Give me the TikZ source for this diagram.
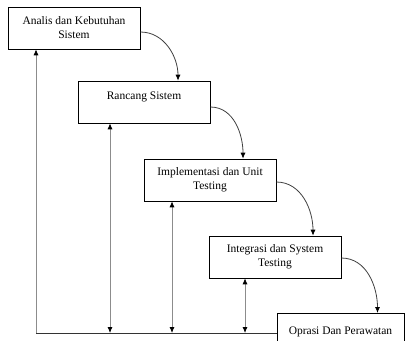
\documentclass[tikz,border=0pt]{standalone}
\usepackage{fontspec}
\setmainfont{Liberation Serif}
\usepackage{tikz}
\usetikzlibrary{arrows.meta}

\begin{document}
\begin{tikzpicture}[x=1pt,y=-1pt]
\tikzstyle{lien}=[-{Latex[black,length=6pt,width=5pt]},thick,draw=black!75]
\tikzstyle{tiang}=[{Latex[black,length=6pt,width=5pt]}-{Latex[black,length=6pt,width=5pt]},thick,draw=black!45]
\tikzset{tahap/.style={draw,semithick,fill=#1,minimum width=132pt,minimum height=42pt,
  align=center,font=\fontsize{11.5}{14}\selectfont},
tahap/.default={white}}
\useasboundingbox (0,0) rectangle (406,340);
\clip (0,0) rectangle (406,340);
\node[tahap] (A) at (74,28) {Analis dan Kebutuhan\\Sistem};
\node[tahap,text height=8pt,text depth=14pt] (B) at (144,102) {Rancang Sistem};
\node[tahap] (C) at (210,180) {Implementasi dan Unit\\Testing};
\node[tahap] (D) at (275,257) {Integrasi dan System\\Testing};
\node[tahap,anchor=north,minimum width=127pt,text height=15pt,text depth=15pt] (E) at (340.5,313) {Oprasi Dan Perawatan};

\coordinate (k0) at (36,333);
\coordinate (k1) at (110,333);
\coordinate (k2) at (172,333);
\coordinate (k3) at (245,333);

\draw[lien] ([yshift=-4pt]A.east) to[out=0,in=90] ([xshift=34pt]B.north);
\draw[lien] ([yshift=-5pt]B.east) to[out=0,in=90] ([xshift=33pt]C.north);
\draw[lien] ([yshift=-2pt]C.east) to[out=0,in=90] ([xshift=38pt]D.north);
\draw[lien] ([yshift=-1pt]D.east) to[out=0,in=90] ([xshift=37pt]E.north);

\draw[thick,black!80] (k0) -- (k0 -| E.west);
\draw[-{Latex[black,length=6pt,width=5pt]},thick,draw=black!45] (k0) -- (k0 |- A.south);
\draw[tiang] (k1) -- (k1 |- B.south);
\draw[tiang] (k2) -- (k2 |- C.south);
\draw[tiang] (k3) -- (k3 |- D.south);

\end{tikzpicture}
\end{document}
